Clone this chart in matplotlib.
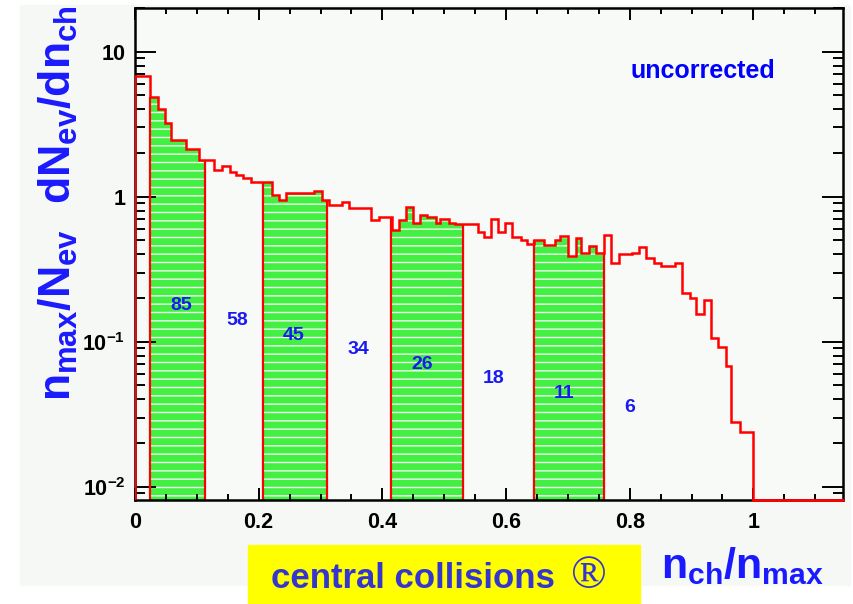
import numpy as np
import matplotlib.pyplot as plt
from matplotlib.patches import Rectangle
from matplotlib.ticker import MultipleLocator, LogLocator, NullFormatter

plt.rcParams['font.family'] = ['Liberation Sans', 'DejaVu Sans']
plt.rcParams['font.weight'] = 'bold'
plt.rcParams['mathtext.fontset'] = 'custom'
for k in ('rm', 'it', 'bf', 'sf'):
    plt.rcParams['mathtext.' + k] = 'Liberation Sans:bold'

# histogram: bin left edges (last = right end) and heights
edges = [0.000, 0.024, 0.037, 0.048, 0.058, 0.082, 0.103, 0.128, 0.141, 0.153,
         0.163, 0.175, 0.187, 0.222, 0.233, 0.244, 0.289, 0.303, 0.314, 0.335,
         0.346, 0.381, 0.395, 0.416, 0.427, 0.438, 0.450, 0.461, 0.473, 0.486,
         0.494, 0.508, 0.518, 0.554, 0.564, 0.575, 0.587, 0.599, 0.610, 0.624,
         0.634, 0.645, 0.661, 0.680, 0.688, 0.700, 0.714, 0.721, 0.734, 0.745,
         0.759, 0.770, 0.783, 0.804, 0.815, 0.827, 0.840, 0.850, 0.874, 0.885,
         0.897, 0.908, 0.920, 0.932, 0.943, 0.955, 0.964, 0.979, 1.000]
values = [6.8, 4.9, 4.0, 3.2, 2.47, 2.13, 1.8, 1.53, 1.62, 1.47,
          1.42, 1.34, 1.27, 1.03, 0.95, 1.06, 1.09, 0.95, 0.88, 0.92,
          0.835, 0.69, 0.72, 0.59, 0.69, 0.85, 0.66, 0.75, 0.72, 0.66,
          0.70, 0.66, 0.65, 0.575, 0.53, 0.70, 0.575, 0.66, 0.53, 0.50,
          0.47, 0.505, 0.466, 0.50, 0.537, 0.39, 0.518, 0.41, 0.458, 0.41,
          0.546, 0.35, 0.40, 0.41, 0.45, 0.38, 0.35, 0.335, 0.35, 0.215,
          0.20, 0.156, 0.194, 0.106, 0.092, 0.0675, 0.0278, 0.024]

# shaded centrality classes
regions = [(0.024, 0.114), (0.2075, 0.311), (0.414, 0.530), (0.645, 0.759)]

# class labels
class_labels = ['85', '58', '45', '34', '26', '18', '11', '6']
class_x = [0.074, 0.1655, 0.257, 0.361, 0.465, 0.580, 0.694, 0.800]
class_y = [0.177, 0.141, 0.111, 0.089, 0.070, 0.056, 0.044, 0.035]

xticks = [0, 0.2, 0.4, 0.6, 0.8, 1.0]
xtick_labels = ['0', '0.2', '0.4', '0.6', '0.8', '1']
yticks = [0.01, 0.1, 1, 10]
ytick_labels = [r'$10^{-2}$', r'$10^{-1}$', '1', '10']

edges = np.array(edges)
values = np.array(values)

W, H = 854, 604
fig = plt.figure(figsize=(W / 100, H / 100), dpi=100)
fig.patch.set_facecolor('white')
fig.patches.append(Rectangle((20 / W, 1 - 585 / H), 830 / W, 580 / H,
                             transform=fig.transFigure, color='#f5f8f5', zorder=-10))

ax = fig.add_axes([135 / W, 1 - 500 / H, 708 / W, 492 / H])
ax.set_facecolor('#f7faf7')
ax.set_yscale('log')
ax.set_xlim(0, 1.145)
ax.set_ylim(0.0081, 20)
ymin = ax.get_ylim()[0]


def height(x, side):
    i = np.searchsorted(edges, x, side=side) - 1
    return values[np.clip(i, 0, len(values) - 1)]


for a, b in regions:
    inner = edges[(edges > a) & (edges < b)]
    xs = np.concatenate([[a], inner, [b]])
    ys = height(xs, 'right')
    ax.fill_between(xs, 1e-3, ys, step='post', facecolor='#42ef42',
                    edgecolor='#f0fff0', hatch='--', linewidth=0, zorder=1)
    ax.vlines([a, b], 1e-3, [height(a, 'right'), height(b, 'left')],
              color='red', lw=1.6, zorder=2)

ax.stairs(values, edges, baseline=1e-3, color='red', lw=1.8, zorder=3)
ax.axhline(ymin, xmin=1.0 / 1.145, xmax=1, color='red', lw=2, clip_on=False, zorder=4)

for lab, x, y in zip(class_labels, class_x, class_y):
    ax.text(x, y, lab, color='#1a1aee', fontsize=14, fontweight='bold',
            ha='center', va='center', zorder=5)

ax.text(0.919, 7.3, 'uncorrected', color='#0000ff', fontsize=18,
        fontweight='bold', ha='center', va='center')

ax.set_xticks(xticks, xtick_labels)
ax.xaxis.set_minor_locator(MultipleLocator(0.05))
ax.set_yticks(yticks, ytick_labels)
ax.yaxis.set_minor_locator(LogLocator(subs=np.arange(2, 10)))
ax.yaxis.set_minor_formatter(NullFormatter())
ax.tick_params(which='both', direction='in', top=True, right=True,
               width=1.4, labelsize=15.5)
ax.tick_params(axis='x', which='major', length=8.5, pad=9)
ax.tick_params(axis='x', which='minor', length=4)
ax.tick_params(axis='y', which='major', length=15, pad=7)
ax.tick_params(axis='y', which='minor', length=7)
for s in ax.spines.values():
    s.set_linewidth(1.8)

fig.text(58 / W, 1 - 203 / H, r'$n_{max}/N_{ev}\ \ dN_{ev}/dn_{ch}$',
         rotation=90, color='#1a1aff', fontsize=32, ha='center', va='center')
fig.text(742 / W, 1 - 566 / H, r'$n_{ch}/n_{max}$', color='#1a1aff',
         fontsize=31, ha='center', va='center')

fig.patches.append(Rectangle((248 / W, 0), 392 / W, 59 / H,
                             transform=fig.transFigure, color='#ffff00', zorder=5))
fig.text(271 / W, 1 - 578 / H, 'central collisions', color='#3535d0',
         fontsize=25, fontweight='bold', ha='left', va='center', zorder=6)
fig.text(589 / W, 1 - 577 / H, '\u00ae', color='#3535d0', fontsize=34,
         family='Liberation Serif', fontweight='normal', ha='center', va='center', zorder=6)

fig.savefig('out.png', dpi=100)
